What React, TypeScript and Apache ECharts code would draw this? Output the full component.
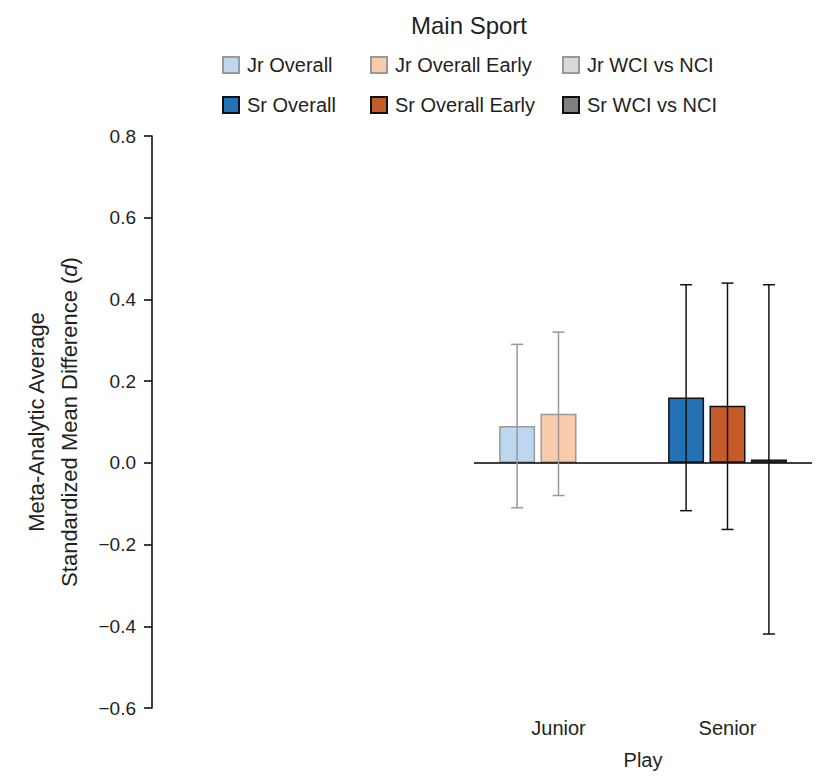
import React, { useEffect, useRef } from "react";
import * as echarts from "echarts";

const categories = ["Junior", "Senior"];
const seriesNames = [
  "Jr Overall",
  "Jr Overall Early",
  "Jr WCI vs NCI",
  "Sr Overall",
  "Sr Overall Early",
  "Sr WCI vs NCI",
];
// values per series across [Junior, Senior]
const jrOverall = [0.09, null];
const jrOverallEarly = [0.12, null];
const jrWci = [null, null];
const srOverall = [null, 0.16];
const srOverallEarly = [null, 0.14];
const srWci = [null, 0.008];
// error bars: [category index, slot, low, high]
const jrErrors = [
  [0, 0, -0.11, 0.29],
  [0, 1, -0.08, 0.32],
];
const srErrors = [
  [1, 0, -0.117, 0.436],
  [1, 1, -0.163, 0.44],
  [1, 2, -0.419, 0.436],
];
const yTicks = { min: -0.6, max: 0.8, interval: 0.2 };

const FONT = "'Liberation Sans', Arial, sans-serif";
const TEXT = "#231f20";
const BAR_W = 36;
const BAR_GAP = 0.15;

export default function App() {
  const ref = useRef<HTMLDivElement>(null);
  useEffect(() => {
    const chart = echarts.init(ref.current!, null, { renderer: "svg" });
    const slot = BAR_W * (1 + BAR_GAP);
    const errRender = (color: string) => (params: any, api: any) => {
      const cat = api.value(0);
      const s = api.value(1);
      const lo = api.coord([cat, api.value(2)]);
      const hi = api.coord([cat, api.value(3)]);
      const x = lo[0] + (s - 1) * slot;
      const cap = 6;
      const style = { stroke: color, lineWidth: 1.5 };
      return {
        type: "group",
        children: [
          { type: "line", shape: { x1: x, y1: lo[1], x2: x, y2: hi[1] }, style },
          { type: "line", shape: { x1: x - cap, y1: lo[1], x2: x + cap, y2: lo[1] }, style },
          { type: "line", shape: { x1: x - cap, y1: hi[1], x2: x + cap, y2: hi[1] }, style },
        ],
      };
    };
    const bar = (name: string, data: any[], stack: string, fill: string, border: string, extra: any = {}) => ({
      name,
      type: "bar",
      stack,
      data,
      barWidth: BAR_W,
      barGap: BAR_GAP * 100 + "%",
      itemStyle: { color: fill, borderColor: border, borderWidth: 1.5 },
      ...extra,
    });
    const legendCommon = {
      orient: "vertical",
      itemWidth: 16,
      itemHeight: 16,
      itemGap: 20,
      icon: "rect",
      textStyle: { fontFamily: FONT, fontSize: 20, color: TEXT, lineHeight: 16, padding: [0, 0, 0, 3] },
    };
    chart.setOption({
      animation: false,
      title: {
        text: "Main Sport",
        left: 464,
        top: 8,
        textAlign: "center",
        textStyle: { fontFamily: FONT, fontSize: 24, fontWeight: "normal", color: TEXT },
      },
      legend: [
        { ...legendCommon, left: 217, top: 50, data: [seriesNames[0], seriesNames[3]] },
        { ...legendCommon, left: 365, top: 50, data: [seriesNames[1], seriesNames[4]] },
        { ...legendCommon, left: 557, top: 50, data: [seriesNames[2], seriesNames[5]] },
      ],
      grid: { left: 474, right: 4, top: 136, bottom: 68 },
      xAxis: {
        type: "category",
        data: categories,
        axisLine: { show: false, onZero: false },
        axisTick: { show: false },
        axisLabel: { fontFamily: FONT, fontSize: 20, color: TEXT, margin: 10 },
        name: "Play",
        nameLocation: "middle",
        nameGap: 42,
        nameTextStyle: { fontFamily: FONT, fontSize: 20, color: TEXT },
      },
      yAxis: {
        type: "value",
        min: yTicks.min,
        max: yTicks.max,
        interval: yTicks.interval,
        offset: 322,
        splitLine: { show: false },
        axisLine: { show: true, onZero: false, lineStyle: { color: "#000", width: 1.5 } },
        axisTick: { show: true, length: 8, lineStyle: { color: "#000", width: 1.5 } },
        axisLabel: {
          fontFamily: FONT,
          fontSize: 19,
          color: TEXT,
          margin: 16,
          formatter: (v: number) => v.toFixed(1).replace("-", "\u2212"),
        },
        name: "Meta-Analytic Average\nStandardized Mean Difference ({i|d})",
        nameLocation: "middle",
        nameGap: 66,
        nameTextStyle: {
          fontFamily: FONT,
          fontSize: 22,
          color: TEXT,
          lineHeight: 33,
          rich: { i: { fontFamily: FONT, fontSize: 22, fontStyle: "italic", color: TEXT, lineHeight: 33 } },
        },
      },
      series: [
        bar(seriesNames[0], jrOverall, "overall", "#bdd7ee", "#999999", {
          markLine: {
            silent: true,
            symbol: "none",
            label: { show: false },
            lineStyle: { color: "#000", width: 1.5, type: "solid" },
            data: [{ yAxis: 0 }],
          },
        }),
        bar(seriesNames[1], jrOverallEarly, "early", "#f8cbad", "#999999"),
        bar(seriesNames[2], jrWci, "wci", "#d9d9d9", "#999999"),
        bar(seriesNames[3], srOverall, "overall", "#2272b5", "#111111"),
        bar(seriesNames[4], srOverallEarly, "early", "#c45b28", "#111111"),
        bar(seriesNames[5], srWci, "wci", "#7f7f7f", "#111111"),
        {
          type: "custom",
          data: jrErrors,
          renderItem: errRender("#999999"),
          encode: { x: 0, y: [2, 3] },
          z: 5,
        },
        {
          type: "custom",
          data: srErrors,
          renderItem: errRender("#111111"),
          encode: { x: 0, y: [2, 3] },
          z: 5,
        },
      ],
    });
    return () => chart.dispose();
  }, []);
  return (
    <div
      ref={ref}
      style={{ position: "absolute", left: 0, top: 0, width: 816, height: 776 }}
    />
  );
}
